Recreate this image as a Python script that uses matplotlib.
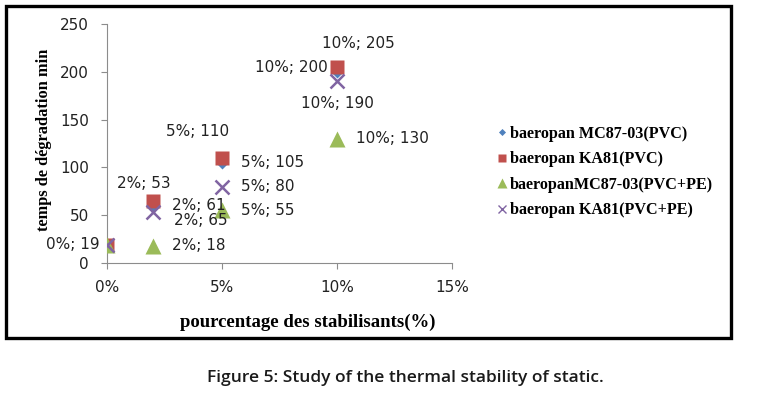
import matplotlib
matplotlib.use("Agg")
import matplotlib.pyplot as plt
from matplotlib.patches import Rectangle
from matplotlib.ticker import FuncFormatter

# stabiliser content (fraction) and degradation time (min)
percent = [0.0, 0.02, 0.05, 0.10]
series_names = [
    "baeropan MC87-03(PVC)",
    "baeropan KA81(PVC)",
    "baeropanMC87-03(PVC+PE)",
    "baeropan KA81(PVC+PE)",
]
mc87_pvc = [19, 61, 105, 200]
ka81_pvc = [19, 65, 110, 205]
mc87_pvc_pe = [19, 18, 55, 130]
ka81_pvc_pe = [19, 53, 80, 190]

# data label text shown next to the points (as in the original chart)
labels_mc87_pvc = ["0%; 19", "2%; 61", "5%; 105", "10%; 200"]
labels_ka81_pvc = [None, "2%; 65", "5%; 110", "10%; 205"]
labels_mc87_pvc_pe = [None, "2%; 18", "5%; 55", "10%; 130"]
labels_ka81_pvc_pe = [None, "2%; 53", "5%; 80", "10%; 190"]

# style per series: colour, marker, size, label offsets (pixels) + alignment
styles = [
    dict(color="#4F81BD", marker="D", ms=6,
         offs=[(-7, 0, "right"), (19, -1, "left"), (19, 0, "left"), (-9, 4, "right")]),
    dict(color="#C0504D", marker="s", ms=10,
         offs=[None, (21, -20, "left"), (-24, 26, "center"), (21, 24, "center")]),
    dict(color="#9BBB59", marker="^", ms=11,
         offs=[None, (19, 0, "left"), (19, 0, "left"), (19, 0, "left")]),
    dict(color="#8064A2", marker="x", ms=10,
         offs=[None, (-9, 29, "center"), (19, 0, "left"), (0, -22, "center")]),
]

values = [mc87_pvc, ka81_pvc, mc87_pvc_pe, ka81_pvc_pe]
point_labels = [labels_mc87_pvc, labels_ka81_pvc, labels_mc87_pvc_pe, labels_ka81_pvc_pe]

fig = plt.figure(figsize=(7.6, 3.99), dpi=100)
ax = fig.add_axes([107 / 760, 136 / 399, 345 / 760, 239 / 399])

for name, ys, labs, st in zip(series_names, values, point_labels, styles):
    extra = dict(mew=1.8) if st["marker"] == "x" else dict(mec="none")
    ax.plot(percent, ys, linestyle="none", marker=st["marker"], ms=st["ms"],
            color=st["color"], label=name, zorder=3, **extra)
    for x, y, lab, off in zip(percent, ys, labs, st["offs"]):
        if lab is None:
            continue
        dx, dy, ha = off
        ax.annotate(lab, (x, y), xytext=(dx, dy), textcoords="offset pixels",
                    ha=ha, va="center", fontsize=11, color="#222222",
                    family="DejaVu Sans", zorder=4)

ax.set_xlim(0, 0.15)
ax.set_ylim(0, 250)
ax.set_xticks([0, 0.05, 0.10, 0.15])
ax.set_yticks([0, 50, 100, 150, 200, 250])
ax.xaxis.set_major_formatter(FuncFormatter(lambda v, p: f"{v * 100:.0f}%"))

for s in ["top", "right"]:
    ax.spines[s].set_visible(False)
for s in ["left", "bottom"]:
    ax.spines[s].set_color("#8c8c8c")
    ax.spines[s].set_linewidth(0.8)
ax.tick_params(axis="both", colors="#8c8c8c", length=4, width=0.8,
               labelsize=11, labelcolor="#222222")
ax.tick_params(axis="y", pad=9)
ax.tick_params(axis="x", pad=8)

serif = "Liberation Serif"
fig.text(44 / 760, 1 - 140 / 399, "temps de dégradation min", rotation=90,
         ha="center", va="center", family=serif, fontweight="bold", fontsize=11.8)
fig.text(308 / 760, 1 - 322 / 399, "pourcentage des stabilisants(%)",
         ha="center", va="center", family=serif, fontweight="bold", fontsize=13.5)

leg_handles = []
for st, name in zip(styles, series_names):
    extra = dict(mew=1.0) if st["marker"] == "x" else dict(mec="none")
    leg_handles.append(plt.Line2D([], [], linestyle="none", marker=st["marker"],
                                  ms=st["ms"] * 0.6, color=st["color"], **extra))
fig.legend(leg_handles, series_names, loc="center left",
           bbox_to_anchor=(497 / 760, 1 - 172 / 399), frameon=False,
           prop=dict(family=serif, weight="bold", size=11.6),
           handlelength=0.6, handletextpad=0.2, labelspacing=0.6,
           borderpad=0, borderaxespad=0)

fig.patches.append(Rectangle((5.5 / 760, 1 - 338 / 399), 725.5 / 760, 332.5 / 399,
                             transform=fig.transFigure, fill=False,
                             edgecolor="black", linewidth=2.4))

fig.text(405 / 760, 1 - 378 / 399, "Figure 5: Study of the thermal stability of static.",
         ha="center", va="center", family="Open Sans", fontweight="semibold",
         fontsize=12.5, color="#1a1a1a")

fig.savefig("out.png", dpi=100)
